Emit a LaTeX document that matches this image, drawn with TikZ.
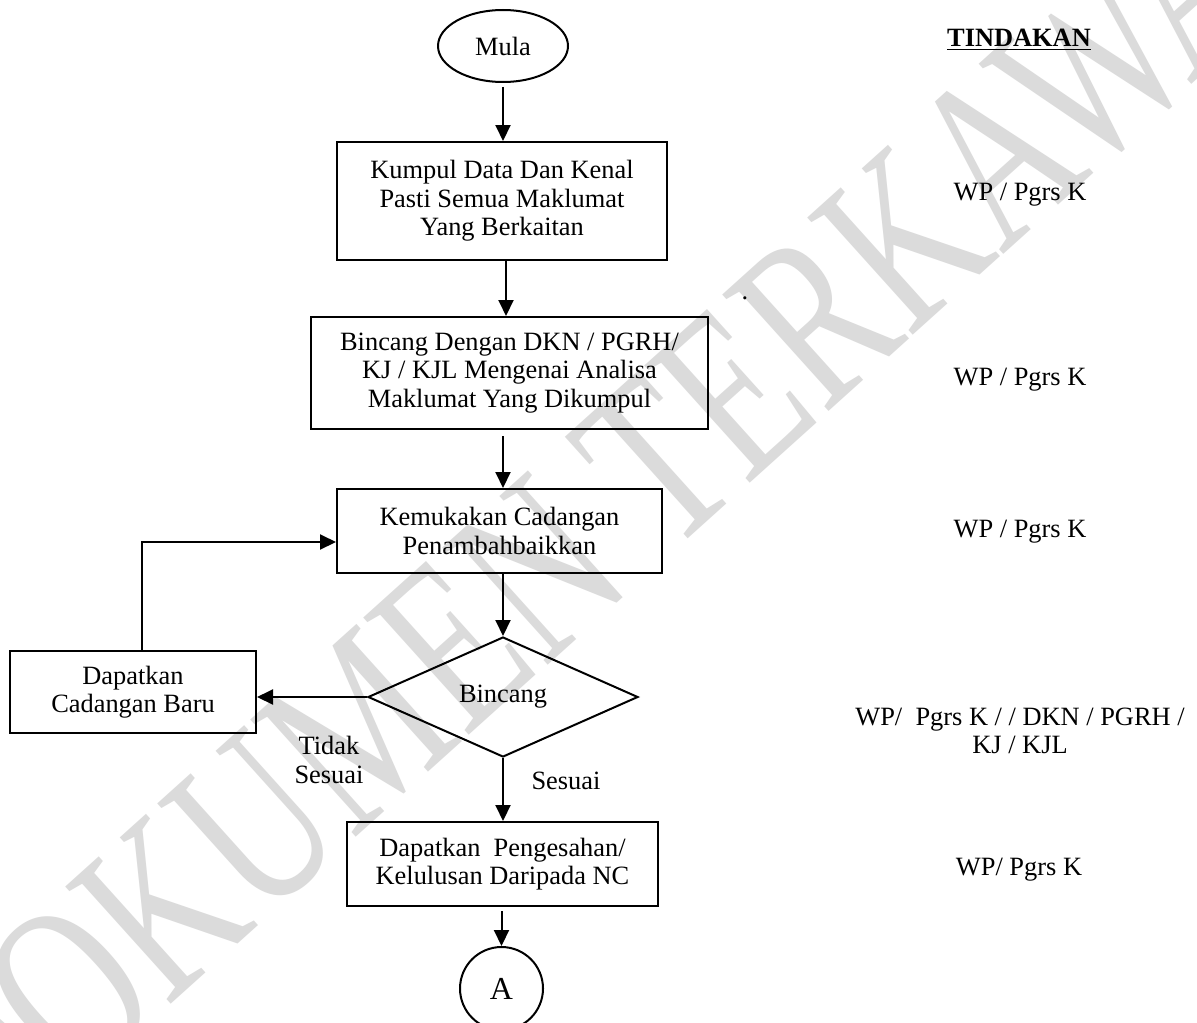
\documentclass[tikz,border=0pt]{standalone}
\usepackage{fontspec}
\setmainfont{Liberation Serif}
\usetikzlibrary{shapes.geometric,arrows.meta}
\begin{document}
\begin{tikzpicture}[x=0.5pt,y=-0.5pt,
  every node/.style={font=\fontsize{13.2}{14.2}\selectfont},
  box/.style={draw,line width=1pt,align=center,inner sep=0pt},
  lbl/.style={align=center,inner sep=0pt},
  arr/.style={line width=1pt,-{Triangle[length=8pt,width=7.5pt]}},
  plain/.style={line width=1pt}]
\useasboundingbox (0,0) rectangle (1197,1022);
\fill[white] (0,0) rectangle (1197,1022);
% watermark
\begin{scope}
\clip (0,0) rectangle (1197,1022);
\node[text=black!14,rotate=42,yscale=1.4,inner sep=0pt,font=\fontsize{86}{90}\selectfont] (wm) at (620,495) {DOKUMEN TERKAWAL};
\end{scope}
% flow nodes
\node[draw,ellipse,line width=1pt,minimum width=65pt,minimum height=36pt,inner sep=0pt] (mula) at (503,46) {Mula};
\node[box,minimum width=165pt,minimum height=59pt] (b1) at (502,201) {Kumpul Data Dan Kenal\\Pasti Semua Maklumat\\Yang Berkaitan};
\node[box,minimum width=198.5pt,minimum height=56pt] (b2) at (509.5,373) {Bincang Dengan DKN / PGRH/\\KJ / KJL Mengenai Analisa\\Maklumat Yang Dikumpul};
\node[box,minimum width=162.5pt,minimum height=42pt] (b3) at (499.5,531) {Kemukakan Cadangan\\Penambahbaikkan};
\node[box,minimum width=123pt,minimum height=41pt] (alt) at (133,692) {Dapatkan\\Cadangan Baru};
\node[draw,diamond,line width=1pt,minimum width=135pt,minimum height=60pt,inner sep=0pt] (dia) at (503,697) {\raisebox{2.5pt}{Bincang}};
\node[box,minimum width=155.5pt,minimum height=42pt] (b6) at (502.5,864) {Dapatkan\ \ Pengesahan/\\Kelulusan Daripada NC};
\node[draw,circle,line width=1pt,minimum size=41.5pt,inner sep=0pt] (A) at (501.5,988.5) {\fontsize{16}{18}\selectfont A};
% branch labels
\node[lbl] (tidak) at (329,760) {Tidak\\Sesuai};
\node[lbl] (sesuai) at (566,781) {Sesuai};
% right column
\node[lbl,anchor=base] (tind) at (1019,47) {\textbf{\underline{TINDAKAN}}};
\node[lbl,anchor=base] (r1) at (1020,200) {WP / Pgrs K};
\node[lbl] (dot) at (745,298) {.};
\node[lbl,anchor=base] (r2) at (1020,385) {WP / Pgrs K};
\node[lbl,anchor=base] (r3) at (1020,537) {WP / Pgrs K};
\node[lbl] (r4) at (1020,731) {WP/\ \ Pgrs K / / DKN / PGRH /\\KJ / KJL};
\node[lbl,anchor=base] (r5) at (1019,875) {WP/ Pgrs K};
% connectors
\draw[arr] ([yshift=-2pt]mula.south) -- (mula.south |- b1.north);
\draw[arr] ([xshift=2pt]b1.south) -- ([xshift=2pt]b1.south |- b2.north);
\draw[arr] ([xshift=1.75pt,yshift=-3pt]b3.north |- b2.south) -- ([xshift=1.75pt]b3.north);
\draw[arr] (dia.north |- b3.south) -- (dia.north);
\draw[arr] (dia.west) -- (dia.west -| alt.east);
\draw[arr] ([xshift=4.5pt]alt.north) |- ([yshift=-5.5pt]b3.west);
\draw[arr] (dia.south) -- (dia.south |- b6.north);
\draw[arr] ([yshift=-2pt]b6.south -| A.north) -- (A.north);
\end{tikzpicture}
\end{document}
